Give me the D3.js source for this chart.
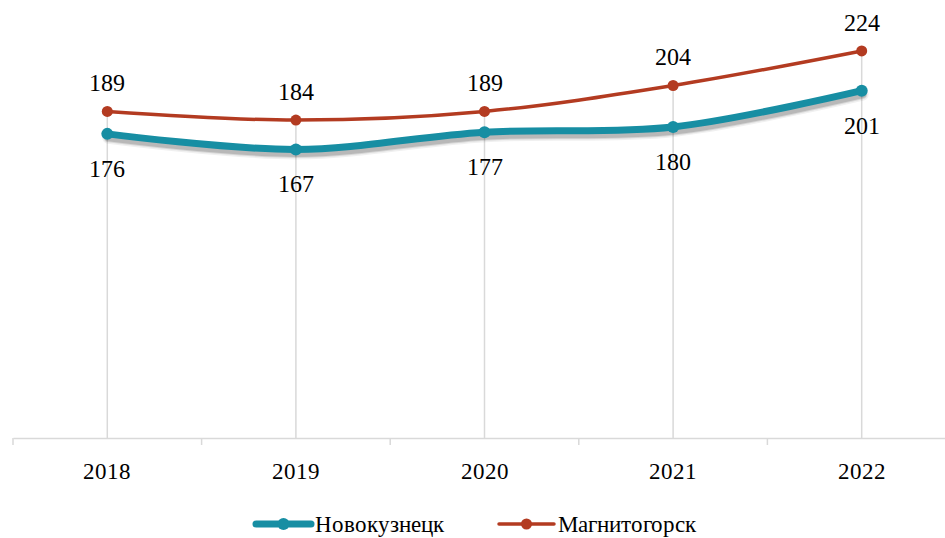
<!DOCTYPE html>
<html>
<head>
<meta charset="utf-8">
<script src="https://cdn.jsdelivr.net/npm/d3@7"></script>
<style>
@font-face{font-family:"ChartSerif";src:local("Liberation Serif"),local("LiberationSerif"),local("Tinos"),local("Times New Roman");}
</style>
</head>
<body style="margin:0">
<svg width="945" height="538"></svg>
<script>
var years = ["2018","2019","2020","2021","2022"]
var novokuznetsk = [176,167,177,180,201]
var magnitogorsk = [189,184,189,204,224]
var seriesNames = ["Новокузнецк","Магнитогорск"]

var svg = d3.select('svg')
var font = "ChartSerif, 'Liberation Serif', Tinos, 'Times New Roman', serif"

var xScale = d3.scaleBand()
    .domain(years)
    .range([13, 956])
var yScale = d3.scaleLinear()
    .domain([0, 250])
    .range([438, 6])

var teal = "#178ea3"
var red = "#b33b21"
var cx = d=> xScale(d) + xScale.bandwidth()/2

function label(sel, size){
    sel.style("font-family", font).style("font-size", size + "px")
       .attr("fill","#000")
}

// drop lines from the highest point to the axis
svg.selectAll(".drop")
    .data(years)
    .join("line")
    .attr("class","drop")
    .attr("x1", cx).attr("x2", cx)
    .attr("y1", (d,i)=> yScale(Math.max(magnitogorsk[i], novokuznetsk[i])))
    .attr("y2", yScale(0))
    .attr("stroke","#d9d9d9").attr("stroke-width",1.5)

// x axis
var xAxis = d3.axisBottom(xScale).tickSize(0).tickPadding(21)
var gx = svg.append("g")
    .attr("transform","translate(0," + yScale(0) + ")")
    .call(xAxis)
gx.select(".domain").attr("stroke","#d9d9d9").attr("stroke-width",1.5)
// category boundary ticks
var bounds = years.map(d=> xScale(d)).concat([xScale.range()[1]])
gx.selectAll(".bt")
    .data(bounds)
    .join("line")
    .attr("class","bt")
    .attr("x1", d=>d).attr("x2", d=>d)
    .attr("y1",0).attr("y2",7)
    .attr("stroke","#d9d9d9").attr("stroke-width",1.5)
gx.selectAll(".tick text").remove()
svg.selectAll(".xlab")
    .data(years)
    .join("text")
    .attr("class","xlab")
    .attr("x", cx)
    .attr("y", yScale(0) + 41)
    .attr("text-anchor","middle")
    .text(d=>d)
    .call(label, 23)

var line = d3.line()
    .x((d,i)=> cx(years[i]))
    .y(d=> yScale(d))
    .curve(d3.curveCatmullRom.alpha(0.5))

// Магнитогорск
svg.append("path")
    .attr("d", line(magnitogorsk))
    .attr("fill","none").attr("stroke",red).attr("stroke-width",3.5)
svg.selectAll(".mdot")
    .data(magnitogorsk)
    .join("circle")
    .attr("class","mdot")
    .attr("cx",(d,i)=> cx(years[i]))
    .attr("cy", d=> yScale(d))
    .attr("r",5.5).attr("fill",red)

// Новокузнецк: soft shadow made of stacked translucent strokes
;[[12,0.06],[9,0.1],[7,0.14]].forEach(function(s){
    svg.append("path")
        .attr("d", line(novokuznetsk))
        .attr("transform","translate(1,4)")
        .attr("fill","none").attr("stroke","#000")
        .attr("stroke-opacity",s[1]).attr("stroke-width",s[0])
        .attr("stroke-linecap","round")
})
svg.append("path")
    .attr("d", line(novokuznetsk))
    .attr("fill","none").attr("stroke",teal).attr("stroke-width",7)
    .attr("stroke-linecap","round")
svg.selectAll(".ndot")
    .data(novokuznetsk)
    .join("circle")
    .attr("class","ndot")
    .attr("cx",(d,i)=> cx(years[i]))
    .attr("cy", d=> yScale(d))
    .attr("r",6).attr("fill",teal)

// data labels
svg.selectAll(".mlab")
    .data(magnitogorsk)
    .join("text")
    .attr("class","mlab")
    .attr("x",(d,i)=> cx(years[i]))
    .attr("y", d=> yScale(d) - 20)
    .attr("text-anchor","middle")
    .text(d=>d)
    .call(label, 24)
svg.selectAll(".nlab")
    .data(novokuznetsk)
    .join("text")
    .attr("class","nlab")
    .attr("x",(d,i)=> cx(years[i]))
    .attr("y", d=> yScale(d) + 43)
    .attr("text-anchor","middle")
    .text(d=>d)
    .call(label, 24)

// legend
var legend = [
    {name: seriesNames[0], color: teal, w: 7, r: 6, x: 256},
    {name: seriesNames[1], color: red, w: 3.5, r: 5.5, x: 499}
]
var lg = svg.selectAll(".leg")
    .data(legend)
    .join("g")
    .attr("class","leg")
    .attr("transform", d=> "translate(" + d.x + ",524)")
lg.append("line")
    .attr("x1",0).attr("x2",55)
    .attr("stroke", d=>d.color).attr("stroke-width", d=>d.w)
    .attr("stroke-linecap","round")
lg.append("circle")
    .attr("cx",27.5).attr("r", d=>d.r).attr("fill", d=>d.color)
lg.append("text")
    .attr("x",59).attr("y",8)
    .text(d=>d.name)
    .call(label, 23)
</script>
</body>
</html>
